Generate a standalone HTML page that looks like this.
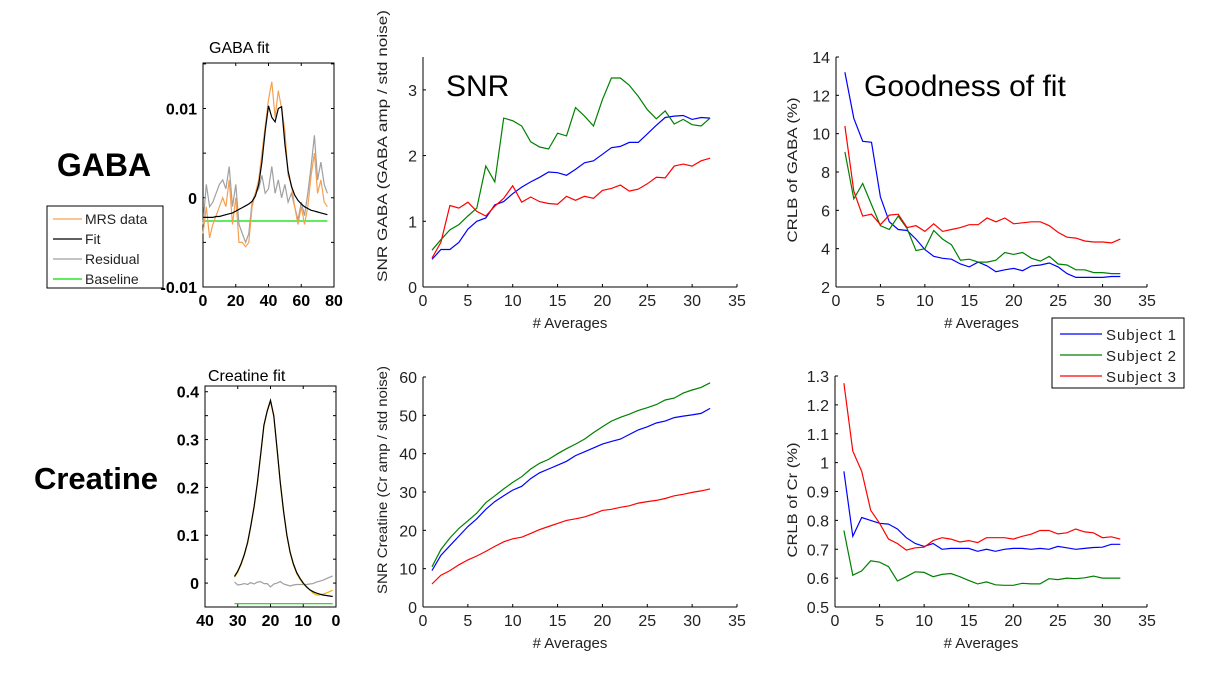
<!DOCTYPE html>
<html><head><meta charset="utf-8">
<style>
html,body{margin:0;padding:0;background:#fff;}
svg{display:block;font-family:"Liberation Sans",sans-serif;}
</style></head>
<body>
<svg id="fig" width="1217" height="685" viewBox="0 0 1217 685" xmlns="http://www.w3.org/2000/svg">
<text x="104" y="176" font-size="32" font-weight="bold" text-anchor="middle">GABA</text>
<text x="96" y="489" font-size="31" font-weight="bold" text-anchor="middle">Creatine</text>
</svg>
<script>
// ---- data ----
const averages = Array.from({length:32},(_,i)=>i+1);
const snrGabaS1=[0.42,0.57,0.57,0.68,0.88,1.0,1.05,1.25,1.3,1.42,1.52,1.6,1.67,1.75,1.74,1.7,1.79,1.89,1.92,2.02,2.12,2.14,2.2,2.2,2.33,2.46,2.58,2.6,2.61,2.55,2.58,2.57];
const snrGabaS2=[0.56,0.72,0.87,0.95,1.08,1.2,1.84,1.6,2.57,2.53,2.45,2.21,2.13,2.1,2.34,2.3,2.73,2.6,2.45,2.85,3.18,3.18,3.07,2.9,2.7,2.56,2.68,2.48,2.55,2.47,2.45,2.57];
const snrGabaS3=[0.44,0.68,1.24,1.2,1.29,1.15,1.08,1.23,1.35,1.54,1.29,1.37,1.3,1.27,1.26,1.38,1.32,1.38,1.35,1.47,1.5,1.55,1.46,1.49,1.57,1.67,1.66,1.84,1.87,1.84,1.92,1.96];
const crlbGabaS1=[13.2,10.8,9.6,9.55,6.7,5.4,5.0,4.95,4.5,3.95,3.6,3.5,3.45,3.2,3.05,3.3,3.1,2.8,2.9,2.97,2.85,3.1,3.15,3.25,3.05,2.7,2.5,2.5,2.5,2.5,2.55,2.55];
const crlbGabaS2=[9.05,6.6,7.4,6.3,5.2,5.0,5.7,5.05,3.9,4.0,4.95,4.5,4.2,3.4,3.45,3.3,3.3,3.4,3.8,3.7,3.8,3.5,3.35,3.6,3.2,3.15,2.9,2.9,2.75,2.75,2.7,2.7];
const crlbGabaS3=[10.4,7.0,5.7,5.8,5.25,5.75,5.8,5.1,5.2,4.9,5.3,4.9,5.0,5.1,5.25,5.25,5.6,5.4,5.6,5.3,5.35,5.4,5.4,5.2,4.85,4.6,4.55,4.4,4.35,4.35,4.3,4.5];
const snrCrS1=[9.5,13.5,16,18.5,21,23,25.5,27.5,29,30.5,31.5,33.5,35,36,37,38,39.5,40.5,41.5,42.5,43.2,43.8,45,46.2,47,48,48.5,49.4,49.8,50.1,50.5,51.8];
const snrCrS2=[10.5,15,18,20.5,22.5,24.5,27.2,29,30.8,32.5,34,36,37.5,38.5,40,41.3,42.5,43.8,45.5,47,48.5,49.5,50.3,51.3,52,52.8,54,54.5,55.8,56.6,57.3,58.5];
const snrCrS3=[6,8.3,9.5,11,12.3,13.3,14.5,15.8,17,17.8,18.2,19.2,20.2,21,21.8,22.6,23,23.5,24.3,25.2,25.5,26,26.4,27.1,27.5,27.8,28.3,29,29.4,29.9,30.3,30.8];
const crlbCrS1=[0.97,0.745,0.81,0.8,0.79,0.787,0.77,0.74,0.72,0.71,0.72,0.7,0.703,0.703,0.703,0.693,0.7,0.693,0.7,0.703,0.703,0.7,0.703,0.7,0.71,0.705,0.7,0.703,0.706,0.707,0.717,0.717];
const crlbCrS2=[0.765,0.61,0.625,0.66,0.655,0.64,0.59,0.605,0.622,0.62,0.605,0.613,0.616,0.605,0.592,0.58,0.587,0.577,0.575,0.575,0.582,0.58,0.58,0.598,0.595,0.6,0.598,0.601,0.607,0.6,0.6,0.6];
const crlbCrS3=[1.275,1.04,0.97,0.835,0.79,0.735,0.72,0.697,0.705,0.707,0.73,0.74,0.735,0.725,0.73,0.723,0.74,0.74,0.74,0.735,0.745,0.752,0.765,0.765,0.753,0.757,0.77,0.76,0.757,0.74,0.743,0.735];
const gabaPpm=Array.from({length:39},(_,i)=>i*2);
const gabaData=[-4,-1,-4.5,-3,-2,-1,0,-1,2,-3,0,-5,-5,-5.5,-5,-1,0.5,2,5,8,11,13,9,12,10,7.5,2.5,1.5,-1,-3,-1,-3,-1,2.5,5,0.5,2,-0.5,-1];
const gabaFit=[-2.2,-2.2,-2.2,-2.2,-2.1,-2.1,-2.0,-1.9,-1.8,-1.7,-1.5,-1.3,-1.1,-0.9,-0.7,-0.4,0.2,1.5,4.0,7.5,10.3,9.0,8.5,10.0,10.2,6.0,3.0,1.3,0.3,-0.3,-0.7,-1.0,-1.2,-1.4,-1.5,-1.6,-1.7,-1.8,-1.9];
const gabaResid=[-3,1.5,-1,-0.5,0.5,1.5,2,1,3.5,-1,1.5,-3,-4,-5,-4,-0.5,0.5,1,2.5,0.5,1,3.5,0.5,2,0,1.5,-0.5,0.5,-1,-2.5,-0.5,-2,0.5,3.5,7,2,4,1.5,0.5];
const gabaBaseline=[-2.6,-2.6];
const gabaBaseX=[0,76];
const crX=Array.from({length:31},(_,i)=>31-i);
const crFit=[0.014,0.025,0.04,0.06,0.085,0.12,0.16,0.21,0.27,0.33,0.36,0.382,0.35,0.28,0.21,0.15,0.10,0.065,0.04,0.022,0.01,0.0,-0.008,-0.014,-0.018,-0.021,-0.023,-0.025,-0.026,-0.027,-0.028];
const crData=[0.012,0.023,0.038,0.058,0.083,0.118,0.158,0.208,0.268,0.328,0.358,0.38,0.348,0.278,0.208,0.148,0.098,0.063,0.038,0.02,0.008,-0.002,-0.007,-0.014,-0.021,-0.025,-0.025,-0.023,-0.021,-0.018,-0.015];
const crResid=[0.002,-0.004,-0.003,-0.001,-0.003,0.001,-0.002,0.002,0.003,-0.001,-0.001,-0.008,-0.002,0,0.003,-0.002,-0.004,-0.006,-0.004,-0.003,-0.003,-0.003,-0.003,-0.002,-0.001,0.002,0.004,0.006,0.009,0.012,0.015];
const crBaseline=[-0.043,-0.043];
const crBaseX=[31,1];
const colors=['#0000ff','#008000','#ff0000'];

const svg=document.getElementById('fig');
const NS='http://www.w3.org/2000/svg';
function el(tag,attrs,parent){const e=document.createElementNS(NS,tag);for(const k in attrs)e.setAttribute(k,attrs[k]);(parent||svg).appendChild(e);return e;}
function lin(d0,d1,r0,r1){return v=>r0+(v-d0)*(r1-r0)/(d1-d0);}
function line(xs,ys,sx,sy,color,name,g){
  const p=xs.map((x,i)=>sx(x).toFixed(1)+','+sy(ys[i]).toFixed(1)).join(' ');
  const e=el('polyline',{points:p,fill:'none',stroke:color,'stroke-width':1.2},g);
  
  
}
function txt(x,y,s,attrs,g){const e=el('text',Object.assign({x:x,y:y},attrs||{}),g);e.textContent=s;return e;}

function mainChart(o){
  const g=el('g',{});
  
  
  const sx=lin(0,35,o.x0,o.x1), sy=lin(o.y0v,o.y1v,o.yb,o.yt);
  el('line',{x1:o.x0,y1:o.yb,x2:o.x1,y2:o.yb,stroke:'#000','stroke-width':1},g);
  el('line',{x1:o.x0,y1:o.yb,x2:o.x0,y2:o.yt,stroke:'#000','stroke-width':1},g);
  for(let t=0;t<=35;t+=5){const x=sx(t);el('line',{x1:x,y1:o.yb,x2:x,y2:o.yb-3,stroke:'#000'},g);
    txt(x,o.yb+19,String(t),{'font-size':16,'text-anchor':'middle',fill:'#222'},g);}
  o.yticks.forEach((t,i)=>{const y=sy(t);el('line',{x1:o.x0,y1:y,x2:o.x0+3,y2:y,stroke:'#000'},g);
    txt(o.x0-6,y+6,o.ylabels[i],{'font-size':16,'text-anchor':'end',fill:'#222'},g);});
  const xl=txt((o.x0+o.x1)/2-10,o.yb+41,'# Averages',{'font-size':15,'text-anchor':'middle',fill:'#222'},g);
  
  const yl=txt(0,0,o.ylabel,{'font-size':14,'text-anchor':'middle',fill:'#222',transform:`translate(${o.ylx},${o.yly}) rotate(-90)`,textLength:o.ylen,lengthAdjust:'spacingAndGlyphs'},g);
  
  o.series.forEach((s,i)=>line(averages,s,sx,sy,colors[i],'series-subject-'+(i+1),g));
  if(o.title){const t=txt(o.title.x,o.title.y,o.title.s,{'font-size':30,fill:'#000'},g);}
}
mainChart({name:'snr-gaba-chart',x0:423,x1:737,yb:287,yt:57,y0v:0,y1v:3.5,yticks:[0,1,2,3],ylabels:['0','1','2','3'],
  ylabel:'SNR GABA (GABA amp / std noise)',ylx:387,yly:146,ylen:272,series:[snrGabaS1,snrGabaS2,snrGabaS3],title:{x:446,y:96,s:'SNR'}});
mainChart({name:'crlb-gaba-chart',x0:836,x1:1147,yb:287,yt:57,y0v:2,y1v:14,yticks:[2,4,6,8,10,12,14],ylabels:['2','4','6','8','10','12','14'],
  ylabel:'CRLB of GABA (%)',ylx:797,yly:170,ylen:145,series:[crlbGabaS1,crlbGabaS2,crlbGabaS3],title:{x:864,y:96,s:'Goodness of fit'}});
mainChart({name:'snr-creatine-chart',x0:423,x1:737,yb:607,yt:377,y0v:0,y1v:60,yticks:[0,10,20,30,40,50,60],ylabels:['0','10','20','30','40','50','60'],
  ylabel:'SNR Creatine (Cr amp / std noise)',ylx:387,yly:480,ylen:228,series:[snrCrS1,snrCrS2,snrCrS3]});
mainChart({name:'crlb-creatine-chart',x0:835,x1:1147,yb:607,yt:376,y0v:0.5,y1v:1.3,yticks:[0.5,0.6,0.7,0.8,0.9,1.0,1.1,1.2,1.3],ylabels:['0.5','0.6','0.7','0.8','0.9','1','1.1','1.2','1.3'],
  ylabel:'CRLB of Cr (%)',ylx:797,yly:500,ylen:115,series:[crlbCrS1,crlbCrS2,crlbCrS3]});

// legend subjects
(function(){
  const g=el('g',{});
  
  
  el('rect',{x:1052,y:318,width:132,height:70,fill:'#fff',stroke:'#000','stroke-width':1},g);
  ['Subject 1','Subject 2','Subject 3'].forEach((s,i)=>{
    const y=334+i*21;
    const e=el('line',{x1:1060,y1:y,x2:1102,y2:y,stroke:colors[i],'stroke-width':1.2},g);
    
    
    txt(1106,y+6,s,{'font-size':15,fill:'#222',textLength:70},g);
  });
})();

function fitChart(o){
  const g=el('g',{});
  
  
  const sx=lin(o.xd0,o.xd1,o.x0,o.x1), sy=lin(o.yd0,o.yd1,o.yb,o.yt);
  el('rect',{x:o.x0,y:o.yt,width:o.x1-o.x0,height:o.yb-o.yt,fill:'none',stroke:'#000','stroke-width':1},g);
  o.xticks.forEach(t=>{const x=sx(t);el('line',{x1:x,y1:o.yb,x2:x,y2:o.yb-3,stroke:'#000'},g);el('line',{x1:x,y1:o.yt,x2:x,y2:o.yt+3,stroke:'#000'},g);
    txt(x,o.yb+19,String(t),{'font-size':16,'font-weight':'bold','text-anchor':'middle'},g);});
  o.yticks.forEach(t=>{const y=sy(t);el('line',{x1:o.x0,y1:y,x2:o.x0+3,y2:y,stroke:'#000'},g);el('line',{x1:o.x1,y1:y,x2:o.x1-3,y2:y,stroke:'#000'},g);});
  o.ylabels.forEach(([t,s])=>txt(o.x0-6,sy(t)+6,s,{'font-size':16,'font-weight':'bold','text-anchor':'end'},g));
  line(o.baseX,o.base,sx,sy,'#00e000','baseline-line',g);
  line(o.xs,o.resid,sx,sy,'#a0a0a0','residual-line',g);
  line(o.xs,o.data,sx,sy,o.dataColor,'mrs-data-line',g);
  line(o.xs,o.fit,sx,sy,'#000','fit-line',g);
  const t=txt(o.tx,o.ty,o.title,{'font-size':16},g);
}
fitChart({name:'gaba-fit-chart',x0:203,x1:334,yb:287,yt:63,xd0:0,xd1:80,yd0:-10,yd1:15.1,xticks:[0,20,40,60,80],yticks:[-10,-5,0,5,10,15],
  ylabels:[[10,'0.01'],[0,'0'],[-10,'-0.01']],xs:gabaPpm,data:gabaData,fit:gabaFit,resid:gabaResid,base:gabaBaseline,baseX:gabaBaseX,dataColor:'#f5a050',title:'GABA fit',tx:209,ty:53});
fitChart({name:'creatine-fit-chart',x0:205,x1:336,yb:607,yt:386,xd0:40,xd1:0,yd0:-0.05,yd1:0.412,xticks:[40,30,20,10,0],yticks:[-0.05,0,0.05,0.1,0.15,0.2,0.25,0.3,0.35,0.4],
  ylabels:[[0.4,'0.4'],[0.3,'0.3'],[0.2,'0.2'],[0.1,'0.1'],[0,'0']],xs:crX,data:crData,fit:crFit,resid:crResid,base:crBaseline,baseX:crBaseX,dataColor:'#f5b000',title:'Creatine fit',tx:208,ty:381});

// fit legend
(function(){
  const g=el('g',{});
  
  
  el('rect',{x:47,y:206,width:116,height:82,fill:'#fff',stroke:'#000','stroke-width':1},g);
  const items=[['MRS data','#f5a050'],['Fit','#000'],['Residual','#a0a0a0'],['Baseline','#00e000']];
  items.forEach(([s,c],i)=>{const y=219+i*20;
    const e=el('line',{x1:53,y1:y,x2:82,y2:y,stroke:c,'stroke-width':1.2},g);
    
    
    txt(85,y+5,s,{'font-size':14,fill:'#222'},g);});
})();
</script>
</body></html>
